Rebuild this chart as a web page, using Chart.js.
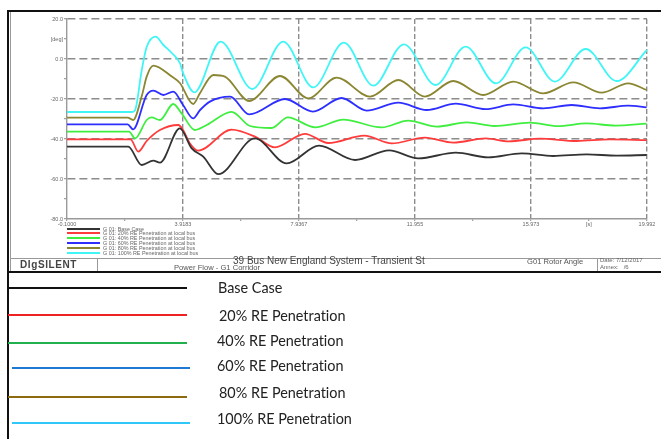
<!DOCTYPE html>
<html>
<head>
<meta charset="utf-8">
<script src="https://cdn.jsdelivr.net/npm/chart.js@4/dist/chart.umd.min.js"></script>
<style>
  html, body { margin: 0; padding: 0; background: #fff; }
  #page { position: relative; width: 661px; height: 439px; overflow: hidden; background: #fff; }
  #plot { position: absolute; left: 0; top: 0; }
  .hl { position: absolute; height: 0; }
  .vl { position: absolute; width: 0; }
  .dsl { position: absolute; font-family: "Liberation Sans", Arial, sans-serif; color: #555; white-space: nowrap; }
  .dsl-key { position: absolute; left: 67px; width: 33px; height: 2px; }
  .dsl-txt { position: absolute; left: 103px; font: 5.4px "Liberation Sans", Arial, sans-serif; color: #666; white-space: nowrap; line-height: 6px; }
  .leg-line { position: absolute; height: 2px; }
  .leg-txt { position: absolute; font: 14.4px Lato, "Noto Sans", sans-serif; font-variant-ligatures: none; color: #222; white-space: nowrap; line-height: 16px; }
</style>
</head>
<body>
<div id="page">
  <canvas id="plot" width="661" height="439"></canvas>

  <!-- frame of the DIgSILENT plot page -->
  <div class="hl" style="left:7px; top:10px; width:654px; border-top:2px solid #111;"></div>
  <div class="vl" style="left:7px; top:10px; height:429px; border-left:2px solid #111;"></div>
  <div class="vl" style="left:10px; top:12px; height:259px; border-left:1px solid #999;"></div>

  <!-- footer row -->
  <div class="hl" style="left:10px; top:258px; width:651px; border-top:1px solid #999;"></div>
  <div class="hl" style="left:7px; top:271px; width:654px; border-top:2px solid #111;"></div>
  <div class="vl" style="left:97px; top:258px; height:13px; border-left:1px solid #999;"></div>
  <div class="vl" style="left:597px; top:258px; height:13px; border-left:1px solid #999;"></div>
  <div class="dsl" style="left:20px; top:259px; font-size:10px; font-weight:bold; letter-spacing:0.6px; color:#444;">DIgSILENT</div>
  <div class="dsl" style="left:233px; top:255px; font-size:10px; color:#444;">39 Bus New England System - Transient St</div>
  <div class="dsl" style="left:174px; top:263px; font-size:7.6px; color:#555;">Power Flow - G1 Corridor</div>
  <div class="dsl" style="left:527px; top:257px; font-size:7.6px; color:#555;">G01 Rotor Angle</div>
  <div class="dsl" style="left:600px; top:257px; font-size:6px; color:#666;">Date: 7/12/2017</div>
  <div class="dsl" style="left:600px; top:264px; font-size:6px; color:#666;">Annex: &nbsp;&nbsp;/6</div>

  <!-- key inside the plot page -->
  <div id="dslKeys"></div>

  <!-- key below the plot page -->
  <div id="legend"></div>
</div>

<script>
// Time axis ticks [s]
const xTickValues = [-0.1, 1.90915, 3.9183, 5.9275, 7.9367, 9.94585, 11.955, 13.964, 15.973, 17.9825, 19.992];
const xTickLabels = ['-0.1000', '', '3.9183', '', '7.9367', '', '11.955', '', '15.973', '[s]', '19.992'];
// Rotor angle ticks [deg]
const yTickValues = [20, 10, 0, -10, -20, -30, -40, -50, -60, -70, -80];
const yTickLabels = ['20.0', '[deg]', '0.0', '', '-20.0', '', '-40.0', '', '-60.0', '', '-80.0'];

const seriesNames = ['Base Case', '20% RE Penetration', '40% RE Penetration', '60% RE Penetration', '80% RE Penetration', '100% RE Penetration'];

// G 01 rotor angle, base case
const tBase = [-0.1, 2.02, 2.49, 2.89, 3.12, 3.81, 4.22, 4.62, 5.14, 6.41, 7.51, 8.63, 9.88, 11.06, 12.07, 13.37, 14.49, 15.65, 16.74, 17.90, 18.94, 19.98];
const aBase = [-43.8, -43.8, -53, -50.8, -51.8, -34.7, -44.7, -48.8, -57.6, -39.7, -52.2, -43.3, -50.5, -45.7, -49.7, -46.8, -49.2, -47.2, -48.5, -47.7, -48.3, -48];
// 20 % RE penetration at local bus
const tRe20 = [-0.1, 2.1, 2.37, 2.66, 3.12, 3.76, 3.92, 4.16, 4.45, 5.6, 6.41, 7.10, 8.14, 8.95, 10.2, 11.15, 12.30, 13.28, 14.40, 15.2, 16.3, 17.55, 18.7, 19.98];
const aRe20 = [-40.2, -40.2, -46.3, -41, -35.5, -33, -35.5, -42.2, -45.8, -35.3, -38.8, -44.2, -37.4, -42, -38.3, -42.2, -39.3, -41.8, -39.7, -41.2, -39.8, -41, -40.2, -40.6];
// 40 % RE penetration at local bus
const tRe40 = [-0.1, 2.05, 2.26, 2.66, 2.83, 3.12, 3.58, 3.87, 4.33, 4.74, 5.60, 6.24, 6.99, 7.55, 8.50, 9.47, 10.80, 11.72, 12.71, 13.75, 14.70, 15.94, 16.90, 17.90, 18.90, 19.98];
const aRe40 = [-36.3, -36.3, -39.7, -30.5, -29.2, -30.5, -22.5, -27.2, -35.5, -33, -26.4, -33.5, -34.5, -29.2, -34.2, -30.3, -34.2, -30.8, -33.8, -31.7, -33.5, -31.8, -33.6, -32.2, -33.3, -32.3];
// 60 % RE penetration at local bus
const tRe60 = [-0.1, 2.0, 2.19, 2.66, 2.89, 3.24, 3.58, 3.92, 4.27, 4.51, 4.85, 5.55, 6.21, 7.45, 8.42, 9.41, 10.28, 11.38, 12.36, 13.37, 14.40, 15.36, 16.40, 17.38, 18.36, 19.34, 19.98];
const aRe60 = [-32.7, -32.7, -35.2, -18, -15.8, -18, -16.3, -23, -29.7, -25.5, -21.3, -18.8, -27.7, -20, -26.3, -19.5, -25.8, -21.8, -25.5, -22.3, -25.1, -22.7, -24.7, -23, -24.7, -23.3, -24.2];
// 80 % RE penetration at local bus
const tRe80 = [-0.1, 2.0, 2.19, 2.5, 2.66, 2.89, 3.53, 3.81, 4.27, 4.51, 4.97, 5.37, 6.21, 7.28, 8.26, 9.24, 10.40, 11.38, 12.30, 13.28, 14.32, 15.36, 16.40, 17.44, 18.42, 19.34, 19.98];
const aRe80 = [-29.3, -29.3, -30.5, -18, -8.8, -3.3, -8.8, -12, -22.5, -17, -8, -8.8, -21, -8.5, -19.7, -9.3, -18.8, -10.5, -18.8, -11, -18, -11.3, -17.2, -11.7, -16.8, -12.2, -15.5];
// 100 % RE penetration at local bus
const tRe100 = [-0.1, 2.15, 2.26, 2.49, 2.66, 2.97, 3.24, 3.53, 3.81, 3.92, 4.31, 5.22, 6.32, 7.39, 8.43, 9.49, 10.51, 11.57, 12.67, 13.71, 14.76, 15.79, 16.80, 17.87, 18.94, 19.99];
const aRe100 = [-26.5, -26.5, -25.5, -5.5, 6, 11.2, 7, 3, -2, -7, -16.7, 8.7, -15, 8.7, -14.2, 8.2, -13.3, 7.3, -13, 6.2, -12.2, 5.8, -11.3, 5, -11, 4.5];

const curveColors = ['#333333', '#ff3b3b', '#3fee3f', '#2e2eff', '#8a8632', '#3ff5f5'];
const keyColors = ['#111111', '#ee2222', '#22b04e', '#1f78d2', '#8b6a10', '#30c8f8'];

const times = [tBase, tRe20, tRe40, tRe60, tRe80, tRe100];
const angles = [aBase, aRe20, aRe40, aRe60, aRe80, aRe100];

const datasets = seriesNames.map((name, s) => ({
  label: name,
  data: times[s].map((t, i) => ({ x: t, y: angles[s][i] })),
  borderColor: curveColors[s],
  borderWidth: 1.8,
  pointRadius: 0,
  fill: false,
  cubicInterpolationMode: 'monotone'
}));

const gridGrey = '#8c8c8c';

new Chart(document.getElementById('plot'), {
  type: 'line',
  data: { datasets },
  options: {
    responsive: false,
    devicePixelRatio: 1,
    animation: false,
    events: [],
    layout: { padding: { left: 0, top: 19, right: 14, bottom: 208 } },
    plugins: { legend: { display: false }, tooltip: { enabled: false } },
    scales: {
      x: {
        type: 'linear',
        min: -0.1,
        max: 19.992,
        afterFit: (scale) => { scale.height = 12; },
        afterBuildTicks: (scale) => { scale.ticks = xTickValues.map(v => ({ value: v })); },
        ticks: {
          autoSkip: false,
          maxRotation: 0,
          padding: 0,
          color: '#666',
          font: { family: '"Liberation Sans", Arial, sans-serif', size: 5.5 },
          callback: (v, i) => xTickLabels[i]
        },
        grid: {
          color: (c) => (c.index % 2 === 0 && c.index > 0) ? gridGrey : 'rgba(0,0,0,0)',
          lineWidth: 1.4,
          tickColor: gridGrey,
          tickLength: 2,
          tickWidth: 1
        },
        border: { display: true, color: '#9a9a9a', width: 1.4, dash: [5, 2.5] }
      },
      y: {
        min: -80,
        max: 20,
        afterFit: (scale) => { scale.width = 67; },
        afterBuildTicks: (scale) => { scale.ticks = yTickValues.map(v => ({ value: v })); },
        ticks: {
          autoSkip: false,
          padding: 1,
          color: '#666',
          font: { family: '"Liberation Sans", Arial, sans-serif', size: 5.5 },
          callback: (v, i) => yTickLabels[i]
        },
        grid: {
          color: (c) => (c.index % 2 === 0 && c.index < yTickValues.length - 1) ? gridGrey : 'rgba(0,0,0,0)',
          lineWidth: 1.4,
          tickColor: gridGrey,
          tickLength: 3,
          tickWidth: 1
        },
        border: { display: true, color: '#9a9a9a', width: 1.4, dash: [8, 4] }
      }
    }
  }
});

// key inside the plot page (small DIgSILENT style)
const dslKeyY = [228.5, 233.3, 238.1, 242.9, 247.7, 252.5];
const dslKeyText = [
  'G 01: Base Case',
  'G 01: 20% RE Penetration at local bus',
  'G 01: 40% RE Penetration at local bus',
  'G 01: 60% RE Penetration at local bus',
  'G 01: 80% RE Penetration at local bus',
  'G 01: 100% RE Penetration at local bus'
];
const dslKeys = document.getElementById('dslKeys');
dslKeyText.forEach((txt, i) => {
  const k = document.createElement('div');
  k.className = 'dsl-key';
  k.style.top = (dslKeyY[i] - 1) + 'px';
  k.style.background = curveColors[i];
  dslKeys.appendChild(k);
  const t = document.createElement('div');
  t.className = 'dsl-txt';
  t.style.top = (dslKeyY[i] - 3) + 'px';
  t.textContent = txt;
  dslKeys.appendChild(t);
});

// key below the plot page
const legLineY = [288.3, 315, 342.7, 368.3, 396.7, 422.7];
const legTextY = [288, 316, 341, 366, 393.3, 419];
const legLineX = [[8, 187], [8, 187], [8, 187], [12, 190], [8, 187], [12, 190]];
const legTextX = [218, 219, 217, 217, 219, 217];
const legend = document.getElementById('legend');
seriesNames.forEach((name, i) => {
  const l = document.createElement('div');
  l.className = 'leg-line';
  l.style.left = legLineX[i][0] + 'px';
  l.style.width = (legLineX[i][1] - legLineX[i][0]) + 'px';
  l.style.top = (legLineY[i] - 1) + 'px';
  l.style.background = keyColors[i];
  legend.appendChild(l);
  const t = document.createElement('div');
  t.className = 'leg-txt';
  t.style.top = (legTextY[i] - 8) + 'px';
  t.style.left = legTextX[i] + 'px';
  t.textContent = name;
  legend.appendChild(t);
});
</script>
</body>
</html>
